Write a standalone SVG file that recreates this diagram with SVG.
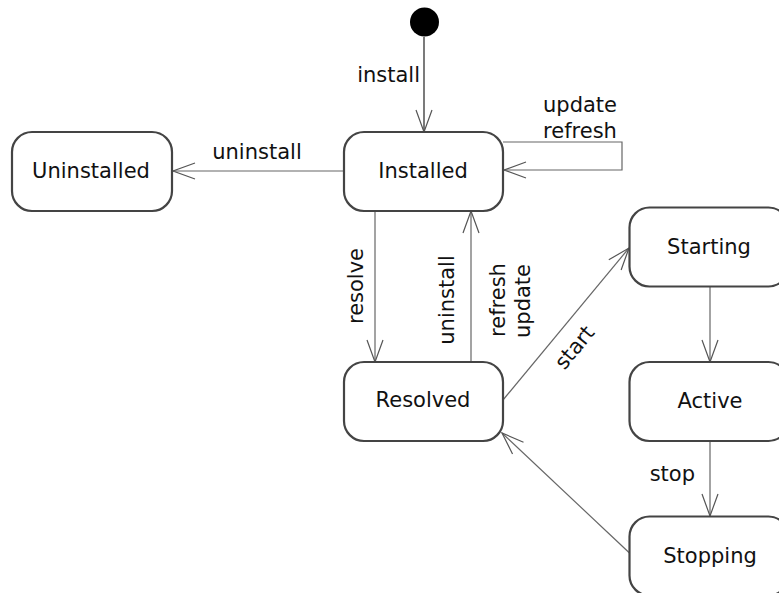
<svg xmlns="http://www.w3.org/2000/svg" width="779" height="593" viewBox="0 0 779 593">
<style>
.node rect{fill:#fff;stroke:#444;stroke-width:2.2}
.node text,.lbl{font-family:"DejaVu Sans",Verdana,sans-serif;font-size:21px;fill:#111}
.node text{text-anchor:middle}
.edge{fill:none;stroke:#666;stroke-width:1.2;marker-end:url(#arr)}
</style>
<defs>
<marker id="arr" markerUnits="userSpaceOnUse" viewBox="-23 -9 24 18" markerWidth="24" markerHeight="18" refX="0" refY="0" orient="auto" overflow="visible">
<path d="M-22,-8 L0,0 L-22,8" fill="none" stroke="#555" stroke-width="1.2"/>
</marker>
</defs>
<rect width="779" height="593" fill="#fff"/>
<g id="connectors">
<path class="edge" d="M424,37 V132" style="stroke:#222"/>
<path class="edge" d="M503,142 H622 V170 H504"/>
<path class="edge" d="M344,171 H173"/>
<path class="edge" d="M375,211 V362"/>
<path class="edge" d="M471,362 V211"/>
<path class="edge" d="M503,400 L629,248"/>
<path class="edge" d="M710,287 V362"/>
<path class="edge" d="M710,441 V516"/>
<path class="edge" d="M629.5,553 L502,433"/>
</g>
<g id="labels">
<text class="lbl" x="420" y="82" text-anchor="end">install</text>
<text class="lbl" x="580" y="112" text-anchor="middle">update</text>
<text class="lbl" x="580" y="138" text-anchor="middle">refresh</text>
<text class="lbl" x="257" y="159" text-anchor="middle">uninstall</text>
<text class="lbl" transform="translate(363,286) rotate(-90)" text-anchor="middle">resolve</text>
<text class="lbl" transform="translate(454,300) rotate(-90)" text-anchor="middle">uninstall</text>
<text class="lbl" transform="translate(505,300) rotate(-90)" text-anchor="middle">refresh</text>
<text class="lbl" transform="translate(530,301) rotate(-90)" text-anchor="middle">update</text>
<text class="lbl" transform="translate(580,352) rotate(-50.3)" text-anchor="middle">start</text>
<text class="lbl" x="695" y="481" text-anchor="end">stop</text>
</g>
<g id="initial"><circle cx="424.5" cy="22" r="14.5" fill="#000"/></g>
<g id="Uninstalled" class="node"><rect x="12" y="132" width="160" height="79" rx="20"/><text x="91" y="178">Uninstalled</text></g>
<g id="Installed" class="node"><rect x="344" y="132" width="159" height="79" rx="20"/><text x="423" y="178">Installed</text></g>
<g id="Resolved" class="node"><rect x="344" y="362" width="159" height="79" rx="20"/><text x="423" y="407">Resolved</text></g>
<g id="Starting" class="node"><rect x="629.5" y="207.5" width="159" height="79" rx="20"/><text x="709" y="253.5">Starting</text></g>
<g id="Active" class="node"><rect x="629.5" y="362" width="159" height="79" rx="20"/><text x="710" y="408">Active</text></g>
<g id="Stopping" class="node"><rect x="629.5" y="516.5" width="159" height="79" rx="20"/><text x="710" y="562.5">Stopping</text></g>
</svg>
